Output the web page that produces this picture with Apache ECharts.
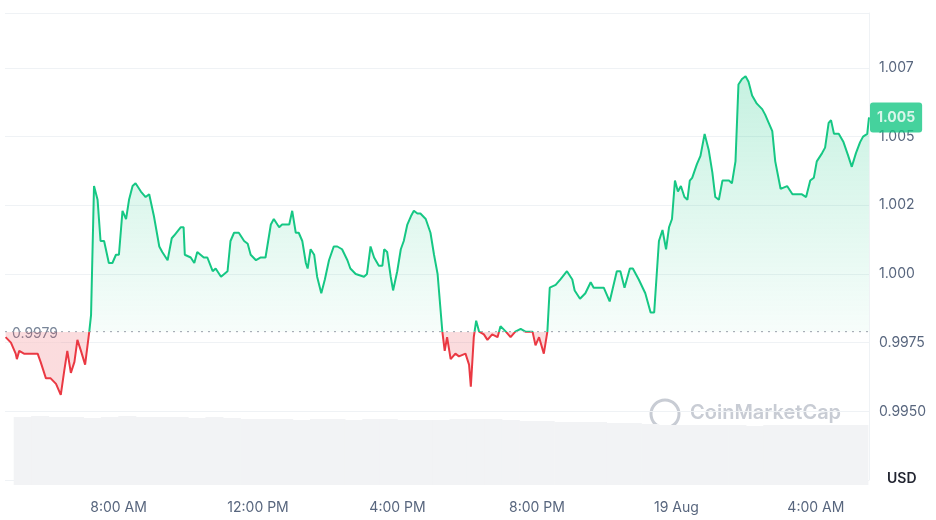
<!DOCTYPE html>
<html lang="en">
<head>
  <meta charset="UTF-8">
  <title>Price Chart</title>
  <style>
    html, body { margin: 0; padding: 0; background: #fff; }
    #chart { width: 936px; height: 520px; }
  </style>
</head>
<body>
<div id="chart"></div>
<script src="https://cdn.jsdelivr.net/npm/echarts@6/dist/echarts.min.js"></script>
<script>
  // price samples (time of day, price)
  const times = [
    '05:01','05:10','05:18','05:20','05:24','05:32','05:44','05:55','06:00','06:09','06:17','06:26','06:34','06:40','06:45','06:51','06:57','07:02','07:08','07:15','07:22','07:25','07:30','07:36','07:41','07:47','07:55',
    '08:01','08:07','08:12','08:18','08:24','08:29','08:35','08:40','08:49','08:57','09:03','09:11','09:20','09:25','09:34','09:41','09:45','09:56',
    '10:01','10:03','10:13','10:19','10:24','10:35','10:41','10:50','10:55','11:04','11:15','11:20','11:26','11:34','11:43','11:49','11:54',
    '12:03','12:11','12:19','12:28','12:33','12:42','12:47','12:59','13:04','13:10','13:15','13:21','13:27','13:30','13:35','13:41','13:46','13:53','13:59',
    '14:06','14:14','14:20','14:28','14:37','14:42','14:51','15:05','15:10','15:16','15:22','15:30','15:36','15:39','15:44','15:50','15:54',
    '16:01','16:07','16:12','16:18','16:24','16:29','16:35','16:40','16:49','16:57','17:03','17:09','17:17','17:21','17:25','17:31','17:39','17:45','17:56',
    '18:02','18:05','18:10','18:14','18:19','18:27','18:33','18:41','18:50','18:55','19:04','19:12','19:20','19:29','19:37','19:49','19:54',
    '20:00','20:08','20:14','20:18','20:28','20:36','20:47','20:56','21:00','21:09','21:18','21:27','21:32','21:41','21:49','21:59',
    '22:11','22:17','22:24','22:33','22:38','22:48','22:59','23:08','23:14','23:22','23:28','23:34','23:39','23:44','23:49','23:54','23:59',
    '+00:05','+00:10','+00:14','+00:18','+00:26','+00:32','+00:39','+00:46','+00:52','+00:57','+01:03','+01:09','+01:20','+01:25','+01:31','+01:36','+01:42','+01:48','+01:53','+01:59',
    '+02:07','+02:16','+02:21','+02:27','+02:33','+02:38','+02:47','+02:58','+03:07','+03:15','+03:23','+03:30','+03:37','+03:43','+03:48','+03:57',
    '+04:02','+04:08','+04:12','+04:17','+04:25','+04:33','+04:41','+04:47','+04:54','+05:01','+05:06','+05:13','+05:16'
  ];
  const prices = [
    0.9977,0.9975,0.9971,0.9969,0.9972,0.9971,0.9971,0.9971,0.9968,0.9962,0.9962,0.9960,0.9956,0.9965,0.9972,0.9964,0.9968,0.9976,0.9972,0.9967,0.9979,0.9985,1.0032,1.0027,1.0012,1.0012,1.0004,
    1.0004,1.0007,1.0007,1.0023,1.0020,1.0027,1.0032,1.0033,1.0030,1.0028,1.0029,1.0021,1.0010,1.0008,1.0005,1.0013,1.0014,1.0017,
    1.0017,1.0007,1.0006,1.0004,1.0008,1.0006,1.0006,1.0001,1.0002,0.9999,1.0001,1.0012,1.0015,1.0015,1.0012,1.0011,1.0007,
    1.0005,1.0006,1.0006,1.0018,1.0020,1.0017,1.0018,1.0018,1.0023,1.0015,1.0015,1.0012,1.0004,1.0002,1.0009,1.0007,0.9999,0.9993,0.9998,
    1.0005,1.0010,1.0010,1.0009,1.0005,1.0002,1.0000,0.9999,1.0000,1.0010,1.0006,1.0003,1.0003,1.0009,1.0008,0.9999,0.9994,
    1.0001,1.0009,1.0012,1.0018,1.0021,1.0023,1.0022,1.0022,1.0020,1.0015,1.0007,1.0000,0.9979,0.9972,0.9977,0.9969,0.9971,0.9970,0.9971,
    0.9967,0.9959,0.9977,0.9983,0.9979,0.9978,0.9976,0.9978,0.9977,0.9981,0.9979,0.9977,0.9979,0.9980,0.9979,0.9979,0.9974,
    0.9977,0.9971,0.9979,0.9995,0.9996,0.9998,1.0001,0.9998,0.9994,0.9991,0.9993,0.9997,0.9995,0.9995,0.9995,0.9990,
    1.0001,1.0001,0.9995,1.0002,1.0002,0.9998,0.9993,0.9986,0.9986,1.0012,1.0016,1.0009,1.0017,1.0020,1.0034,1.0030,1.0032,
    1.0028,1.0027,1.0034,1.0035,1.0040,1.0043,1.0051,1.0045,1.0037,1.0028,1.0027,1.0034,1.0034,1.0033,1.0041,1.0069,1.0071,1.0072,1.0070,1.0065,
    1.0062,1.0060,1.0058,1.0055,1.0052,1.0041,1.0031,1.0032,1.0029,1.0029,1.0029,1.0028,1.0034,1.0035,1.0041,1.0044,
    1.0046,1.0055,1.0056,1.0051,1.0051,1.0048,1.0043,1.0039,1.0044,1.0048,1.0050,1.0051,1.0057
  ];
  // half-hour volume bars (relative)
  const volumes = [
    68,69,68,68,67,68,69,68,68,68,67,68,67,66,66,66,65,66,66,65,66,66,65,65,
    65,66,66,66,65,64,64,63,63,63,62,62,61,60,60,60,60,60,59,60,60,60,60,60,60
  ];
  const baseline = 0.9979;
  const lastPrice = '1.005';
  const yTicks = { min: 0.9925, max: 1.0095, step: 0.0025 };

  const day0 = '2024-08-18', day1 = '2024-08-19';
  function toTime(s) {
    return s[0] === '+' ? new Date(day1 + 'T' + s.slice(1) + ':00').getTime()
                        : new Date(day0 + 'T' + s + ':00').getTime();
  }
  const tMin = toTime('05:00'), tMax = toTime('+05:16');
  // stacked on the baseline so the fill runs between baseline and price
  const baseData = times.map(t => [toTime(t), baseline]);
  const diffData = times.map((t, i) => [toTime(t), +(prices[i] - baseline).toFixed(4)]);
  const volData = volumes.map((v, i) => [tMin + i * 1800000 + 900000, v]);

  const months = ['Jan','Feb','Mar','Apr','May','Jun','Jul','Aug','Sep','Oct','Nov','Dec'];
  function timeLabel(v) {
    const d = new Date(v), h = d.getHours();
    if (d.getMinutes() !== 0 || h % 4 !== 0) return '';
    if (h === 0) return d.getDate() + ' ' + months[d.getMonth()];
    return (h % 12 === 0 ? 12 : h % 12) + ':00 ' + (h < 12 ? 'AM' : 'PM');
  }

  const chart = echarts.init(document.getElementById('chart'));
  chart.setOption({
    animation: false,
    grid: [
      { left: 5, right: 67, top: 13, bottom: 40 },
      { left: 5, right: 67, top: 415, height: 70 }
    ],
    xAxis: [
      { type: 'time', gridIndex: 0, min: tMin, max: tMax, axisLine: { show: false }, axisTick: { show: false }, axisLabel: { show: false }, splitLine: { show: false } },
      {
        type: 'time', gridIndex: 1, min: tMin, max: tMax,
        axisLine: { show: false }, axisTick: { show: false }, splitLine: { show: false },
        axisLabel: { formatter: timeLabel, color: '#58667e', fontSize: 14, fontFamily: 'Inter', margin: 16, hideOverlap: false }
      }
    ],
    yAxis: [
      {
        type: 'value', gridIndex: 0, position: 'right',
        min: yTicks.min, max: yTicks.max, interval: yTicks.step,
        axisLine: { show: true, lineStyle: { color: '#eff2f5' } },
        axisTick: { show: false },
        splitLine: { lineStyle: { color: '#eff2f5' } },
        axisLabel: {
          color: '#58667e', fontSize: 14, fontFamily: 'Inter', margin: 10,
          formatter: v => {
            if (v < 0.994 || v > 1.008) return '';
            return v < 1 ? v.toFixed(4) : (Math.floor(v * 1000 + 1e-6) / 1000).toFixed(3);
          }
        }
      },
      { type: 'value', gridIndex: 1, min: 0, max: 70, show: false }
    ],
    graphic: [
      { type: 'text', left: 887, top: 472, style: { text: 'USD', fill: '#222531', font: '600 14px Inter' } },
      { type: 'circle', shape: { cx: 665, cy: 414, r: 14 }, style: { fill: 'none', stroke: '#c8ccd4', lineWidth: 3 } },
      { type: 'text', left: 690, top: 403, style: { text: 'CoinMarketCap', fill: '#c8ccd4', font: '600 20px Inter' } }
    ],
    series: [
      {
        type: 'bar', xAxisIndex: 1, yAxisIndex: 1,
        data: volData, barWidth: 18, barGap: 0,
        itemStyle: { color: '#f2f3f5' }
      },
      {
        type: 'line', xAxisIndex: 0, yAxisIndex: 0, stack: 'p', stackStrategy: 'all',
        data: baseData, showSymbol: false, silent: true,
        lineStyle: { opacity: 0 }
      },
      {
        type: 'line', xAxisIndex: 0, yAxisIndex: 0, stack: 'p', stackStrategy: 'all',
        data: diffData, showSymbol: false,
        lineStyle: { width: 2, color: '#16c784' },
        areaStyle: { color: 'rgba(22,199,132,0.15)' }
      },
      {
        // dotted reference line at the opening price
        type: 'line', xAxisIndex: 0, yAxisIndex: 0, silent: true,
        data: [[tMin, baseline], [tMax, baseline]],
        symbol: 'none',
        lineStyle: { type: [2, 5], color: '#9aa0ab', width: 1 }
      },
      {
        // opening price tag and latest price tag
        type: 'scatter', xAxisIndex: 0, yAxisIndex: 0, silent: true, clip: false,
        symbolSize: 0,
        data: [
          {
            value: [tMin, baseline],
            label: {
              show: true, position: 'right', formatter: '0.9979', color: '#58667e',
              fontSize: 14, fontFamily: 'Inter', distance: 4, offset: [0, 2],
              backgroundColor: 'rgba(255,255,255,0.9)', padding: [2, 3]
            }
          },
          {
            value: [tMax, 1.0057],
            label: {
              show: true, position: 'right', formatter: lastPrice, color: '#fff', fontWeight: 'bold',
              fontSize: 14, fontFamily: 'Inter', backgroundColor: '#16c784',
              padding: [8, 7], borderRadius: 3, distance: 1
            }
          }
        ]
      }
    ]
  });

  // split colours at the baseline: green above, red below
  const baseY = chart.convertToPixel({ yAxisIndex: 0 }, baseline);
  const peakY = chart.convertToPixel({ yAxisIndex: 0 }, 1.0072);
  const b = baseY / 520, pk = peakY / 520;
  const lineGrad = { type: 'linear', x: 0, y: 0, x2: 0, y2: 520, global: true, colorStops: [
    { offset: 0, color: '#16c784' }, { offset: b, color: '#16c784' },
    { offset: b, color: '#ea3943' }, { offset: 1, color: '#ea3943' }
  ] };
  const areaGrad = { type: 'linear', x: 0, y: 0, x2: 0, y2: 520, global: true, colorStops: [
    { offset: 0, color: 'rgba(22,199,132,0.35)' }, { offset: pk, color: 'rgba(22,199,132,0.35)' },
    { offset: b, color: 'rgba(22,199,132,0.05)' },
    { offset: b, color: 'rgba(234,57,67,0.25)' }, { offset: 1, color: 'rgba(234,57,67,0.25)' }
  ] };
  chart.setOption({ series: [{}, {}, { lineStyle: { color: lineGrad }, areaStyle: { color: areaGrad } }] });
</script>
</body>
</html>
